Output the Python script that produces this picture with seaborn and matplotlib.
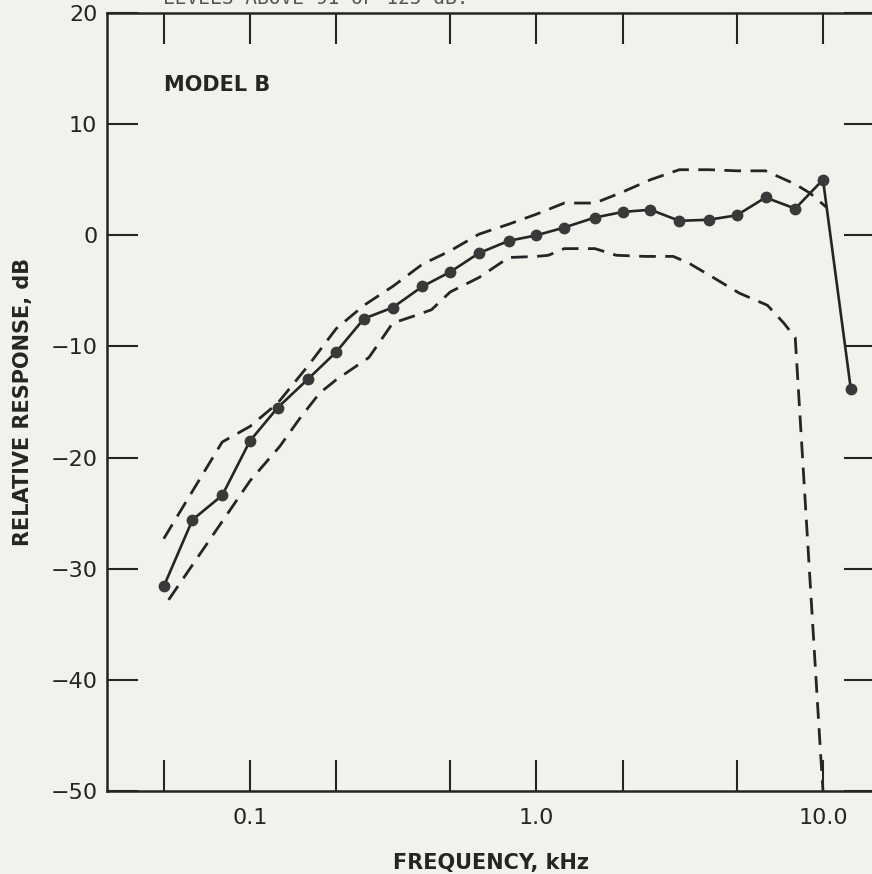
#!/usr/bin/env python3
'''
Respuesta relativa (dB) vs frecuencia (kHz) - Model B.
'''

import matplotlib
matplotlib.use('Agg')
import matplotlib.pyplot as plt
import seaborn as sns
import pandas as pd

# curva media (puntos, tercios de octava)
freq_khz = [0.05, 0.063, 0.08, 0.1, 0.125, 0.16, 0.2, 0.25, 0.315, 0.4, 0.5,
            0.63, 0.8, 1.0, 1.25, 1.6, 2.0, 2.5, 3.15, 4.0, 5.0, 6.3, 8.0,
            10.0, 12.5]
resp_db = [-31.6, -25.6, -23.4, -18.5, -15.5, -12.9, -10.5, -7.5, -6.5, -4.6,
           -3.3, -1.6, -0.5, 0.0, 0.7, 1.6, 2.1, 2.3, 1.3, 1.4, 1.8, 3.4,
           2.4, 5.0, -13.8]

# envolvente superior (trazos)
upper_freq = [0.05, 0.08, 0.1, 0.125, 0.16, 0.2, 0.25, 0.315, 0.4, 0.5, 0.63,
              0.8, 1.0, 1.25, 1.6, 2.0, 2.5, 3.15, 4.0, 5.0, 6.3, 8.0, 9.0,
              10.3]
upper_db = [-27.3, -18.6, -17.2, -15.1, -11.7, -8.4, -6.3, -4.6, -2.6, -1.4,
            0.1, 1.0, 1.9, 2.9, 2.9, 3.9, 5.0, 5.9, 5.9, 5.8, 5.8, 4.6, 3.8,
            2.5]

# envolvente inferior (trazos)
lower_freq = [0.052, 0.1, 0.127, 0.149, 0.175, 0.2, 0.26, 0.315, 0.37, 0.43,
              0.5, 0.63, 0.8, 1.0, 1.1, 1.25, 1.6, 1.9, 2.4, 3.0, 3.4, 4.2,
              5.1, 6.4, 7.3, 8.0, 9.8, 10.0]
lower_db = [-32.8, -22.1, -19.0, -16.5, -14.2, -13.0, -11.0, -7.9, -7.3, -6.7,
            -5.1, -3.8, -2.0, -1.9, -1.8, -1.2, -1.2, -1.8, -1.9, -1.9, -2.5,
            -3.9, -5.2, -6.3, -7.9, -9.2, -46.5, -50.0]

x_ticks = [0.05, 0.1, 0.2, 0.5, 1.0, 2.0, 5.0, 10.0]
x_tick_labels = ['', '0.1', '', '', '1.0', '', '', '10.0']
y_ticks = [-50, -40, -30, -20, -10, 0, 10, 20]

BG = '#f2f1ec'
INK = '#262424'

sns.set_theme(style='ticks')
plt.rcParams['font.family'] = ['DejaVu Sans']
plt.rcParams['axes.unicode_minus'] = True

fig = plt.figure(figsize=(8.72, 8.74), dpi=100, facecolor=BG)
ax = fig.add_axes([107 / 872, 83 / 874, 768 / 872, 778 / 874])
ax.set_facecolor(BG)

df_mean = pd.DataFrame({'f': freq_khz, 'db': resp_db})
df_up = pd.DataFrame({'f': upper_freq, 'db': upper_db})
df_lo = pd.DataFrame({'f': lower_freq, 'db': lower_db})

dash = (0, (6, 3.4))
sns.lineplot(data=df_up, x='f', y='db', ax=ax, color=INK, lw=2.0,
             linestyle=dash, estimator=None, sort=False)
sns.lineplot(data=df_lo, x='f', y='db', ax=ax, color=INK, lw=2.0,
             linestyle=dash, estimator=None, sort=False)
sns.lineplot(data=df_mean, x='f', y='db', ax=ax, color=INK, lw=1.9,
             marker='o', markersize=8.5, markeredgewidth=0,
             markerfacecolor='#3a3838', estimator=None, sort=False)

ax.set_xscale('log')
ax.set_xlim(10 ** (-1.499), 10 ** 1.1815)
ax.set_ylim(-50, 20)
ax.set_xticks(x_ticks)
ax.set_xticklabels(x_tick_labels)
ax.minorticks_off()
ax.set_yticks(y_ticks)
ax.tick_params(axis='both', which='major', direction='in', length=22,
               width=1.5, color=INK, labelcolor=INK, labelsize=16,
               top=True, right=True)
ax.tick_params(axis='x', pad=12)
ax.tick_params(axis='y', pad=7)

for side in ['left', 'bottom', 'top', 'right']:
    ax.spines[side].set_color(INK)
    ax.spines[side].set_linewidth(1.8)

ax.set_xlabel('FREQUENCY, kHz', fontsize=15, fontweight='bold', color=INK,
              labelpad=18)
ax.set_ylabel('RELATIVE RESPONSE, dB', fontsize=15, fontweight='bold',
              color=INK, labelpad=12)

ax.text(0.05, 13.5, 'MODEL B', fontsize=15, fontweight='bold', color=INK,
        ha='left', va='center')

# linea superior recortada del original (solo asoma el borde inferior)
fig.text(163 / 872, 1 - 4 / 874, 'LEVELS ABOVE 91 OF 125 dB.',
         family='DejaVu Sans Mono', fontsize=14, color='#555555',
         ha='left', va='baseline')

fig.savefig('out.png', dpi=100, facecolor=BG)
